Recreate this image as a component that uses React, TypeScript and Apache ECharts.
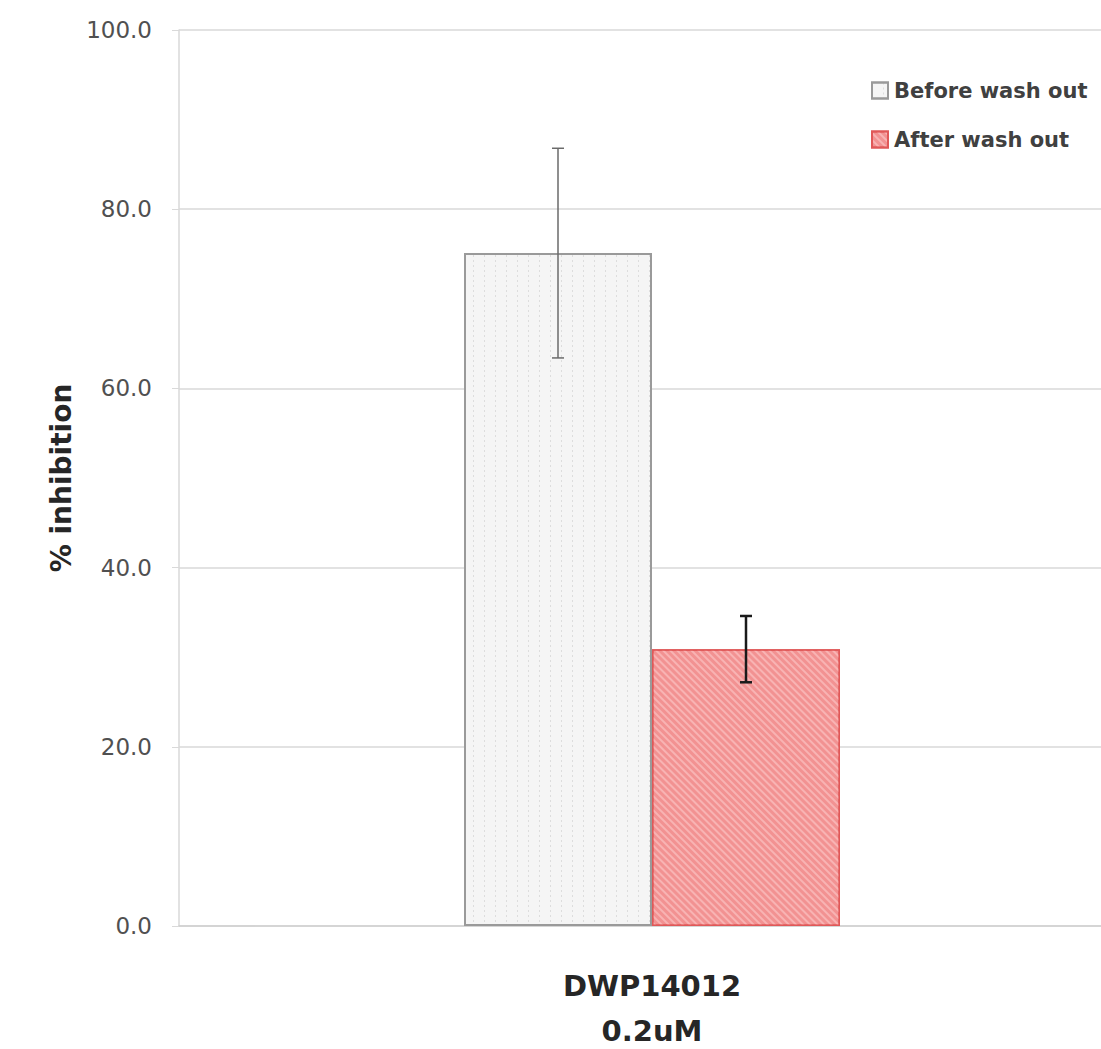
import React, { useEffect, useRef } from "react";
import * as echarts from "echarts";

const categories = ["DWP14012\n0.2uM"];
const seriesNames = ["Before wash out", "After wash out"];
const beforeValues = [75.1];
const afterValues = [30.9];
const beforeErr = [11.7];
const afterErr = [3.7];
const yTicks = { min: 0, max: 100, interval: 20 };

const BAR_W = 188;

export default function App() {
  const ref = useRef<HTMLDivElement>(null);
  useEffect(() => {
    if (!ref.current) return;
    const chart = echarts.init(ref.current, null, { renderer: "svg" });
    const font = "'DejaVu Sans', sans-serif";
    const errSeries = (name: string, vals: number[], errs: number[], offset: number, color: string, width: number) => ({
      type: "custom",
      name: name + " err",
      data: vals.map((v, i) => [i, v - errs[i], v + errs[i]]),
      z: 10,
      silent: true,
      renderItem: (params: any, api: any) => {
        const lo = api.coord([api.value(0), api.value(1)]);
        const hi = api.coord([api.value(0), api.value(2)]);
        const x = lo[0] + offset;
        const cap = 6;
        const style = { stroke: color, lineWidth: width };
        return {
          type: "group",
          children: [
            { type: "line", shape: { x1: x, y1: lo[1], x2: x, y2: hi[1] }, style },
            { type: "line", shape: { x1: x - cap, y1: lo[1], x2: x + cap, y2: lo[1] }, style },
            { type: "line", shape: { x1: x - cap, y1: hi[1], x2: x + cap, y2: hi[1] }, style },
          ],
        };
      },
    });
    chart.setOption({
      animation: false,
      backgroundColor: "#ffffff",
      grid: { left: 179, top: 30, height: 896, width: 946, outerBoundsMode: "none", containLabel: false },
      legend: {
        orient: "vertical",
        left: 866,
        top: 75,
        itemWidth: 16,
        itemHeight: 16,
        itemGap: 28,
        icon: "rect",
        data: seriesNames,
        textStyle: { fontFamily: font, fontSize: 21, fontWeight: "bold", color: "#404040", padding: [0, 0, 0, 1] },
      },
      xAxis: {
        type: "category",
        data: categories,
        axisTick: { show: false },
        axisLine: { lineStyle: { color: "#d0d0d0", width: 1.5 } },
        axisLabel: {
          margin: 37,
          fontFamily: font,
          fontSize: 29,
          fontWeight: "bold",
          color: "#262626",
          lineHeight: 45,
        },
      },
      yAxis: {
        type: "value",
        min: yTicks.min,
        max: yTicks.max,
        interval: yTicks.interval,
        name: "% inhibition",
        nameLocation: "middle",
        nameGap: 100,
        nameTextStyle: { fontFamily: font, fontSize: 28, fontWeight: "bold", color: "#262626" },
        axisLine: { show: true, lineStyle: { color: "#d9d9d9", width: 1.5 } },
        axisTick: { show: true, length: 7, lineStyle: { color: "#d9d9d9" } },
        splitLine: { lineStyle: { color: "#d9d9d9", width: 1.5 } },
        axisLabel: {
          margin: 27,
          fontFamily: font,
          fontSize: 23,
          color: "#505050",
          formatter: (v: number) => v.toFixed(1),
        },
      },
      series: [
        {
          type: "bar",
          name: seriesNames[0],
          data: beforeValues,
          barWidth: BAR_W,
          barGap: "0%",
          itemStyle: {
            color: "#f5f5f5",
            borderColor: "#9a9a9a",
            borderWidth: 2,
            decal: {
              symbol: "rect",
              symbolSize: 0.7,
              color: "rgba(170,170,170,0.6)",
              dashArrayX: [[1, 10]],
              dashArrayY: [2, 3],
            },
          },
        },
        {
          type: "bar",
          name: seriesNames[1],
          data: afterValues,
          barWidth: BAR_W,
          itemStyle: {
            color: "#f29292",
            borderColor: "#e05858",
            borderWidth: 1.5,
            decal: {
              symbol: "rect",
              symbolSize: 1,
              color: "rgba(255,220,220,0.45)",
              dashArrayX: [1, 0],
              dashArrayY: [2, 3],
              rotation: Math.PI / 4,
            },
          },
        },
        errSeries(seriesNames[0], beforeValues, beforeErr, -BAR_W / 2, "#6a6a6a", 1.5),
        errSeries(seriesNames[1], afterValues, afterErr, BAR_W / 2, "#1a1a1a", 2.5),
      ],
    });
    return () => chart.dispose();
  }, []);
  return (
    <div
      ref={ref}
      style={{ position: "fixed", left: 0, top: 0, width: 1101, height: 1049 }}
    />
  );
}
